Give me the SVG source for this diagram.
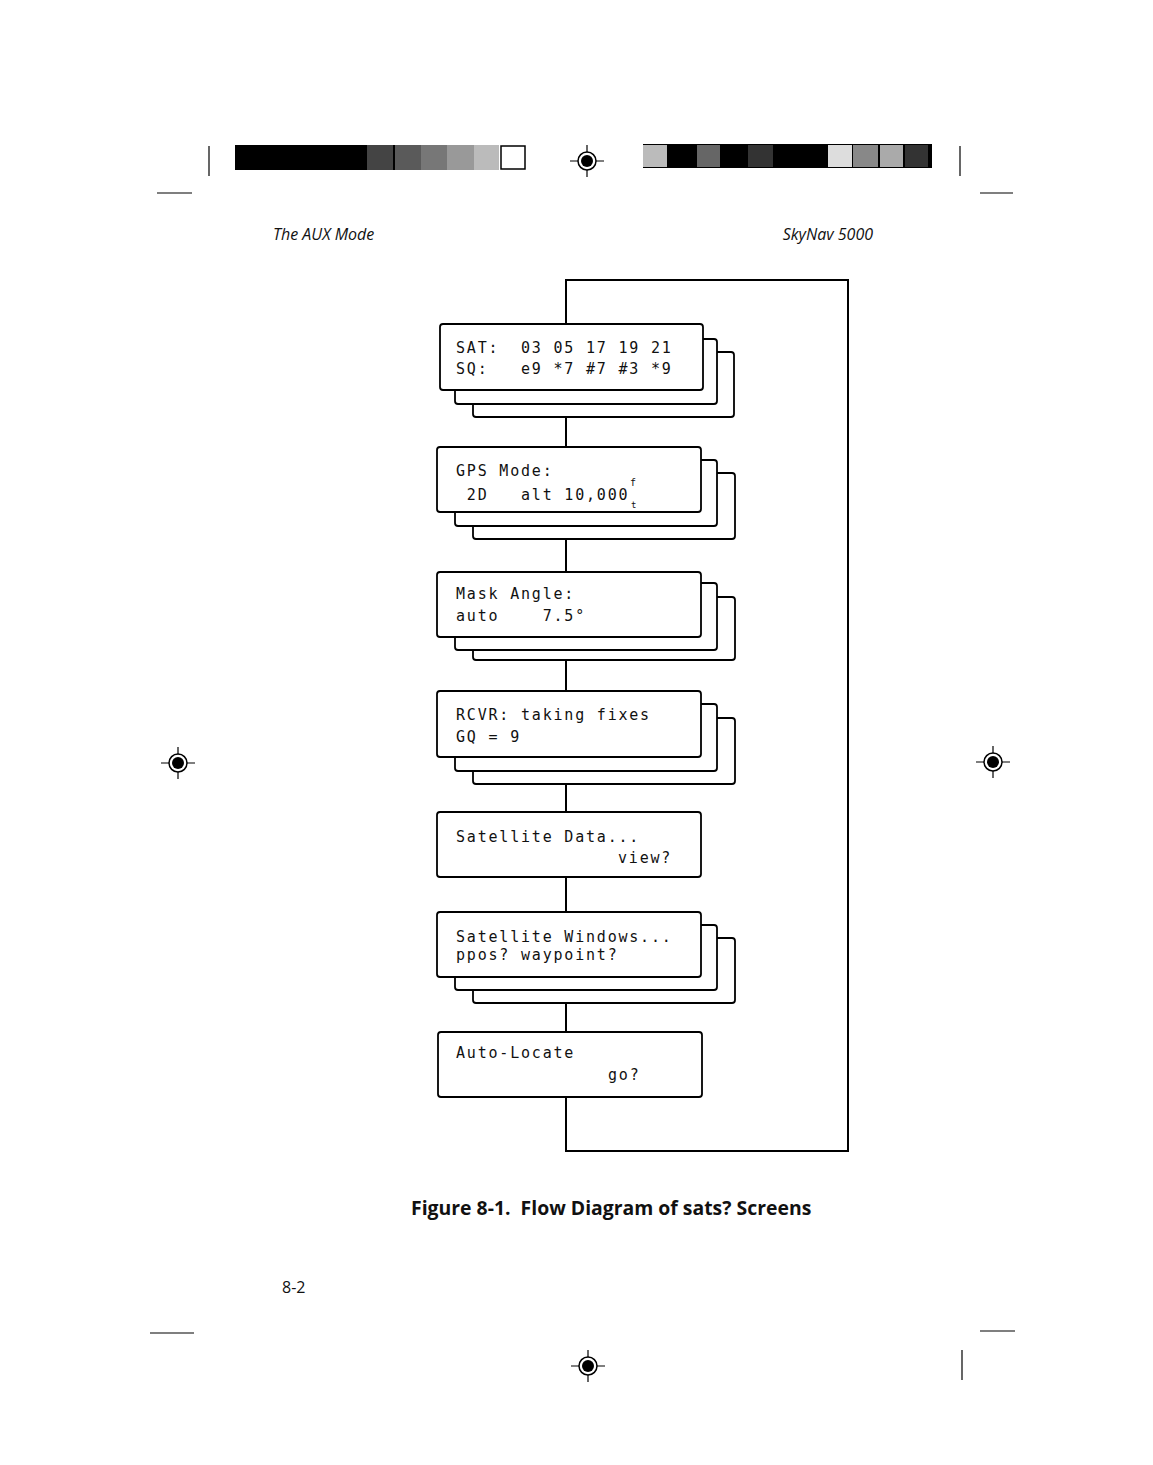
<svg xmlns="http://www.w3.org/2000/svg" width="1153" height="1465" viewBox="0 0 1153 1465">
<style>
.box{fill:#fff;stroke:#000;stroke-width:1.8}
.lcd{font-family:"DejaVu Sans Mono","Liberation Mono",monospace;font-size:15px;letter-spacing:1.8px;fill:#111}
.hdr{font-family:"Open Sans","Liberation Sans",sans-serif;font-style:italic;font-size:16px;fill:#111}
.cap{font-family:"Open Sans","Liberation Sans",sans-serif;font-weight:bold;font-size:19.4px;fill:#111}
.pg{font-family:"Open Sans","Liberation Sans",sans-serif;font-size:16px;fill:#111}
.wire{fill:none;stroke:#000;stroke-width:2}
.mark{stroke:#000;stroke-width:1.2;fill:none}
</style>
<defs>
<g id="reg">
<line class="mark" x1="-17" y1="0" x2="17" y2="0"/>
<line class="mark" x1="0" y1="-16" x2="0" y2="16"/>
<circle cx="0" cy="0" r="9" fill="#fff" stroke="#000" stroke-width="1.5"/>
<circle cx="0" cy="0" r="6" fill="#000"/>
</g>
</defs>
<rect width="1153" height="1465" fill="#fff"/>

<!-- page furniture -->
<g id="page">
<line class="mark" x1="209" y1="146" x2="209" y2="176"/>
<line class="mark" x1="960" y1="146" x2="960" y2="176"/>
<line class="mark" x1="157" y1="193" x2="192" y2="193"/>
<line class="mark" x1="980" y1="193" x2="1013" y2="193"/>
<line class="mark" x1="150" y1="1333" x2="194" y2="1333"/>
<line class="mark" x1="980" y1="1331" x2="1015" y2="1331"/>
<line class="mark" x1="962" y1="1350" x2="962" y2="1380"/>
<rect x="235" y="145" width="132" height="25" fill="#000"/>
<rect x="367" y="145" width="26" height="25" fill="#444"/>
<rect x="393" y="145" width="2" height="25" fill="#000"/>
<rect x="395" y="145" width="26" height="25" fill="#5a5a5a"/>
<rect x="421" y="145" width="26" height="25" fill="#777"/>
<rect x="447" y="145" width="27" height="25" fill="#999"/>
<rect x="474" y="145" width="25" height="25" fill="#bbb"/>
<rect x="501" y="146" width="24" height="23" fill="#fff" stroke="#000" stroke-width="1.5"/>
<rect x="643" y="144" width="289" height="24" fill="#000"/>
<rect x="643" y="145" width="24" height="22" fill="#bbb"/>
<rect x="697" y="145" width="23" height="22" fill="#666"/>
<rect x="748" y="145" width="25" height="22" fill="#333"/>
<rect x="828" y="145" width="24" height="22" fill="#ddd"/>
<rect x="853" y="145" width="25" height="22" fill="#888"/>
<rect x="880" y="145" width="23" height="22" fill="#aaa"/>
<rect x="905" y="145" width="23" height="22" fill="#333"/>
<use href="#reg" x="587" y="161"/>
<use href="#reg" x="178" y="763"/>
<use href="#reg" x="993" y="762"/>
<use href="#reg" x="588" y="1366"/>
<text class="hdr" x="273" y="240">The AUX Mode</text>
<text class="hdr" x="873" y="240" text-anchor="end">SkyNav 5000</text>
<text class="cap" x="411" y="1215" xml:space="preserve">Figure 8-1.  Flow Diagram of sats? Screens</text>
<text class="pg" x="282" y="1293">8-2</text>
</g>

<g id="connectors">
<polyline class="wire" points="566,324 566,280 848,280 848,1151 566,1151 566,1097"/>
<line class="wire" x1="566" y1="417" x2="566" y2="447"/>
<line class="wire" x1="566" y1="539" x2="566" y2="572"/>
<line class="wire" x1="566" y1="660" x2="566" y2="691"/>
<line class="wire" x1="566" y1="784" x2="566" y2="812"/>
<line class="wire" x1="566" y1="877" x2="566" y2="912" stroke-width="3"/>
<line class="wire" x1="566" y1="1003" x2="566" y2="1032"/>
</g>

<g id="node-sat">
<rect class="box" x="473" y="352" width="261" height="65" rx="3"/>
<rect class="box" x="455" y="339" width="262" height="65" rx="3"/>
<rect class="box" x="440" y="324" width="263" height="66" rx="3"/>
<text class="lcd" x="456" y="353" xml:space="preserve">SAT:  03 05 17 19 21</text>
<text class="lcd" x="456" y="374" xml:space="preserve">SQ:   e9 *7 #7 #3 *9</text>
</g>

<g id="node-gps">
<rect class="box" x="473" y="473" width="262" height="66" rx="3"/>
<rect class="box" x="455" y="460" width="262" height="66" rx="3"/>
<rect class="box" x="437" y="447" width="264" height="65" rx="3"/>
<text class="lcd" x="456" y="476">GPS Mode:</text>
<text class="lcd" x="456" y="500" xml:space="preserve"> 2D   alt 10,000</text>
<text class="lcd" x="630" y="486" style="font-size:10px;letter-spacing:0">f</text>
<text class="lcd" x="631" y="508" style="font-size:9px;letter-spacing:0">t</text>
</g>

<g id="node-mask">
<rect class="box" x="473" y="597" width="262" height="63" rx="3"/>
<rect class="box" x="455" y="583" width="262" height="67" rx="3"/>
<rect class="box" x="437" y="572" width="264" height="65" rx="3"/>
<text class="lcd" x="456" y="599">Mask Angle:</text>
<text class="lcd" x="456" y="621" xml:space="preserve">auto    7.5°</text>
</g>

<g id="node-rcvr">
<rect class="box" x="473" y="718" width="262" height="66" rx="3"/>
<rect class="box" x="455" y="704" width="262" height="67" rx="3"/>
<rect class="box" x="437" y="691" width="264" height="66" rx="3"/>
<text class="lcd" x="456" y="720">RCVR: taking fixes</text>
<text class="lcd" x="456" y="742">GQ = 9</text>
</g>

<g id="node-satdata">
<rect class="box" x="437" y="812" width="264" height="65" rx="3"/>
<text class="lcd" x="456" y="842">Satellite Data...</text>
<text class="lcd" x="618" y="863">view?</text>
</g>

<g id="node-satwin">
<rect class="box" x="473" y="938" width="262" height="65" rx="3"/>
<rect class="box" x="455" y="925" width="262" height="65" rx="3"/>
<rect class="box" x="437" y="912" width="264" height="65" rx="3"/>
<text class="lcd" x="456" y="942">Satellite Windows...</text>
<text class="lcd" x="456" y="960">ppos? waypoint?</text>
</g>

<g id="node-autolocate">
<rect class="box" x="438" y="1032" width="264" height="65" rx="3"/>
<text class="lcd" x="456" y="1058">Auto-Locate</text>
<text class="lcd" x="608" y="1080">go?</text>
</g>
</svg>
